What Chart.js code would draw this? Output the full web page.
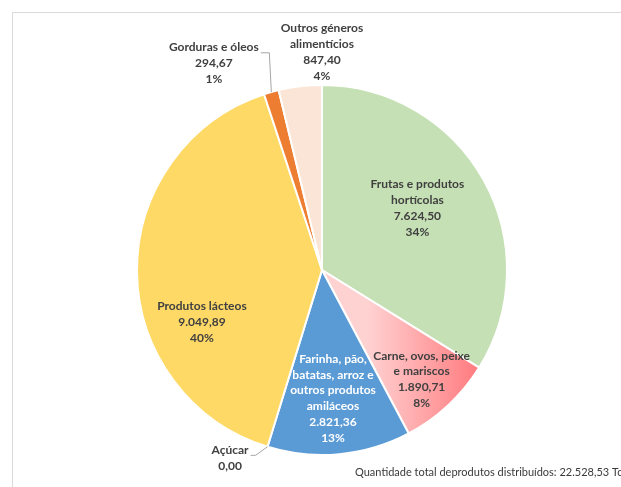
<!DOCTYPE html>
<html><head><meta charset="utf-8">
<script src="https://cdn.jsdelivr.net/npm/chart.js@4/dist/chart.umd.min.js"></script>
<style>
html,body{margin:0;padding:0;background:#fff;overflow:hidden;}
#wrap{position:relative;width:621px;height:487px;}
#frame{position:absolute;left:12px;top:12px;width:800px;height:800px;border:1px solid #d9d9d9;box-sizing:border-box;}
canvas{position:absolute;left:0;top:0;}
</style></head>
<body><div id="wrap"><div id="frame"></div><canvas id="c" width="621" height="487"></canvas></div>
<script>
const categories = [
  ["Frutas e produtos", "hortícolas"],
  ["Carne, ovos, peixe", "e mariscos"],
  ["Farinha, pão,", "batatas, arroz e", "outros produtos", "amiláceos"],
  ["Açúcar"],
  ["Produtos lácteos"],
  ["Gorduras e óleos"],
  ["Outros géneros", "alimentícios"]
];
const values = [7624.50, 1890.71, 2821.36, 0.00, 9049.89, 294.67, 847.40];
const percentLabels = ["34%", "8%", "13%", "", "40%", "1%", "4%"];
const totalLabel = "Quantidade total deprodutos distribuídos: 22.528,53 Ton";

const colors = ["#C5E0B4", null, "#5B9BD5", "#A5A5A5", "#FFD966", "#ED7D31", "#FBE5D6"];
const textColors = ["#404040", "#404040", "#FFFFFF", "#404040", "#404040", "#404040", "#404040"];
// label placement: polar offset from pie centre (angle deg clockwise from top, radius factor)
const placement = [
  {a:57.1, r:0.614},
  {a:137.7, r:0.80},
  {a:175.1, r:0.697},
  {a:206.1, r:1.13, leader:true},
  {a:246.6, r:0.707},
  {a:332.4, r:1.262, leader:true},
  {a:0, r:1.178}
];

function fmt(v){
  const parts = v.toFixed(2).split('.');
  parts[0] = parts[0].replace(/\B(?=(\d{3})+(?!\d))/g, '.');
  return parts[0] + ',' + parts[1];
}

const FONT = "bold 12px Lato";
const LH = 15.8;

const labelPlugin = {
  id: 'labels',
  afterDatasetsDraw(chart){
    const ctx = chart.ctx;
    const meta = chart.getDatasetMeta(0);
    const arc0 = meta.data[0];
    const cx = arc0.x, cy = arc0.y, R = arc0.outerRadius;
    ctx.save();
    ctx.font = FONT;
    ctx.textAlign = 'center';
    ctx.textBaseline = 'middle';
    categories.forEach((cat, i) => {
      const p = placement[i];
      const ang = p.a * Math.PI/180;
      const x = cx + R*p.r*Math.sin(ang);
      const y = cy - R*p.r*Math.cos(ang);
      const lines = cat.slice();
      lines.push(fmt(values[i]));
      if (percentLabels[i]) lines.push(percentLabels[i]);
      const n = lines.length;
      ctx.fillStyle = textColors[i];
      lines.forEach((ln, k) => {
        ctx.fillText(ln, x, y + (k - (n-1)/2)*LH);
      });
      if (p.leader){
        const arc = meta.data[i];
        const mid = (arc.startAngle + arc.endAngle)/2;
        const ex = cx + R*Math.cos(mid);
        const ey = cy + R*Math.sin(mid);
        const firstY = y - (n-1)/2*LH;
        const w = ctx.measureText(cat[0]).width;
        const tx = x + w/2 + 2;
        ctx.strokeStyle = '#A6A6A6';
        ctx.lineWidth = 1;
        ctx.beginPath();
        if (i === 5){
          ctx.moveTo(tx, firstY + 5.5);
          ctx.lineTo(ex - 2, firstY + 5.5);
          ctx.lineTo(ex, ey);
        } else {
          ctx.moveTo(tx, firstY + 5.5);
          ctx.lineTo(tx + 5, firstY + 5.5);
          ctx.lineTo(ex, ey);
        }
        ctx.stroke();
      }
    });
    ctx.font = "11px Lato";
    ctx.fillStyle = '#3a3a3a';
    ctx.textAlign = 'left';
    ctx.fillText(totalLabel, 355, 472);
    ctx.restore();
  }
};

new Chart(document.getElementById('c'), {
  type: 'pie',
  data: {
    labels: categories.map(c => c.join(' ')),
    datasets: [{
      data: values,
      backgroundColor: (ctx) => {
        const i = ctx.dataIndex;
        if (i === 1){
          const chart = ctx.chart;
          const ca = chart.chartArea;
          if (!ca) return '#FF9999';
          const mx = (ca.left + ca.right)/2;
          const g = chart.ctx.createLinearGradient(mx + 45, 0, mx + 155, 0);
          g.addColorStop(0, '#FFD2D2');
          g.addColorStop(1, '#FF7C80');
          return g;
        }
        return colors[i];
      },
      borderColor: '#FFFFFF',
      borderWidth: 2
    }]
  },
  options: {
    responsive: false,
    animation: false,
    rotation: 0,
    layout: {padding: {left: 136, right: 113, top: 84, bottom: 31}},
    plugins: {legend: {display: false}, tooltip: {enabled: false}}
  },
  plugins: [labelPlugin]
});
</script>
</body></html>
